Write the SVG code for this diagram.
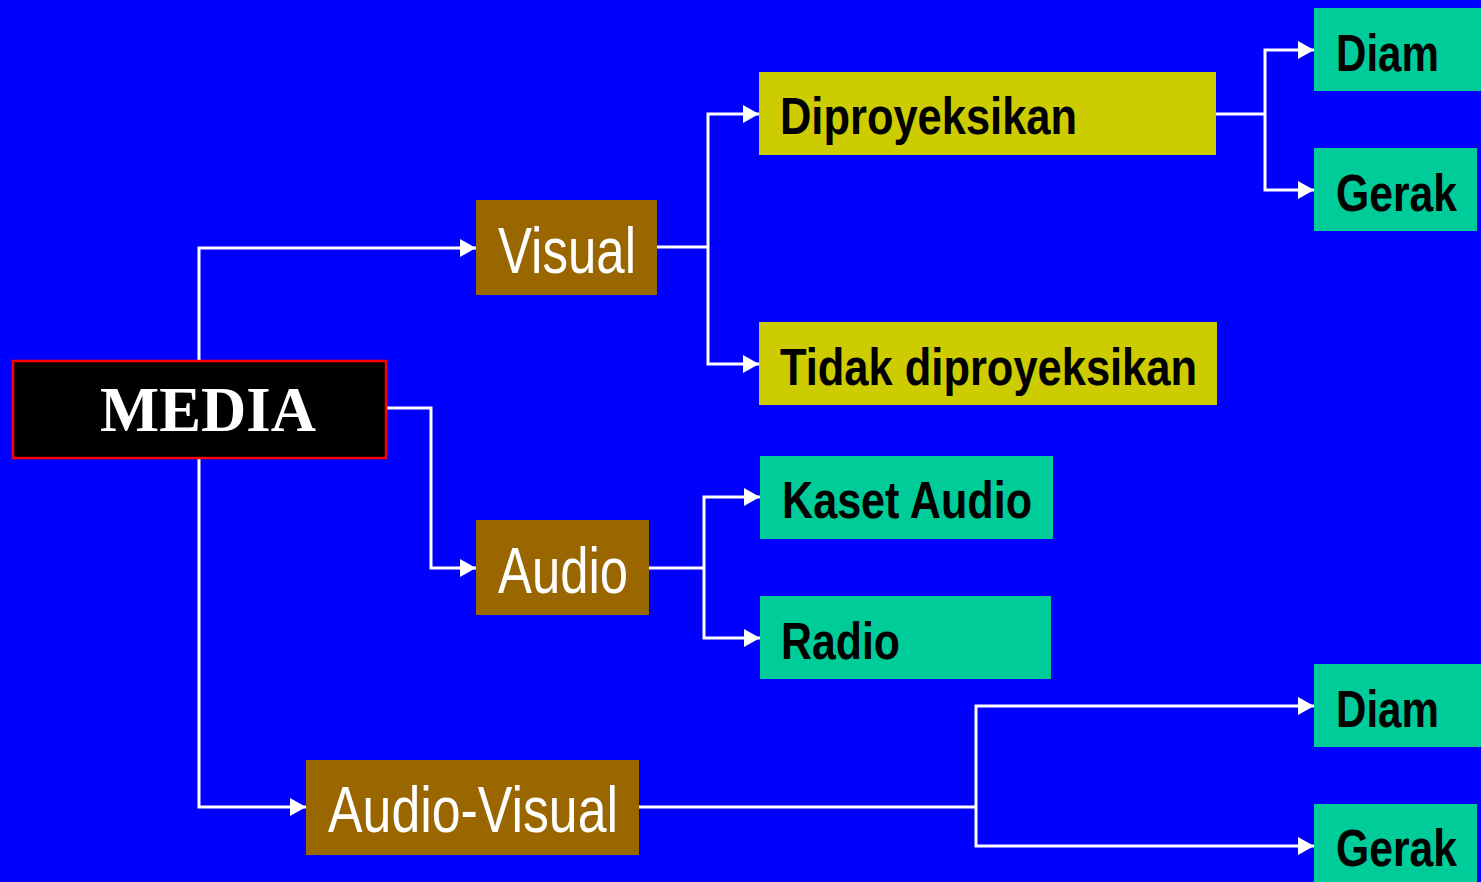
<svg xmlns="http://www.w3.org/2000/svg" width="1481" height="882" viewBox="0 0 1481 882">
<style>
.c{fill:none;stroke:#fff;stroke-width:3}
.b{fill:#996600}
.y{fill:#CCCC00}
.g{fill:#00CC99}
.tw{font-family:"Liberation Sans",Arial,sans-serif;fill:#fff;font-size:64px}
.tb{font-family:"Liberation Sans",Arial,sans-serif;fill:#000;font-weight:bold;font-size:52px}
</style>
<defs>
<marker id="ar" markerUnits="userSpaceOnUse" markerWidth="16" markerHeight="18" refX="16" refY="9" orient="auto">
<path d="M0,0 L16,9 L0,18 Z" fill="#fff"/>
</marker>
</defs>
<rect width="1481" height="882" fill="#0000FF"/>
<g id="connectors">
<polyline class="c" points="199,360 199,248 476,248" marker-end="url(#ar)"/>
<polyline class="c" points="386,408 431,408 431,568 476,568" marker-end="url(#ar)"/>
<polyline class="c" points="199,458 199,807 306,807" marker-end="url(#ar)"/>
<polyline class="c" points="657,247 708,247"/>
<polyline class="c" points="708,247 708,114 759,114" marker-end="url(#ar)"/>
<polyline class="c" points="708,247 708,364 759,364" marker-end="url(#ar)"/>
<polyline class="c" points="1216,114 1265,114"/>
<polyline class="c" points="1265,114 1265,50 1314,50" marker-end="url(#ar)"/>
<polyline class="c" points="1265,114 1265,190 1314,190" marker-end="url(#ar)"/>
<polyline class="c" points="649,568 704,568"/>
<polyline class="c" points="704,568 704,497 760,497" marker-end="url(#ar)"/>
<polyline class="c" points="704,568 704,638 760,638" marker-end="url(#ar)"/>
<polyline class="c" points="639,807 976,807"/>
<polyline class="c" points="976,807 976,706 1314,706" marker-end="url(#ar)"/>
<polyline class="c" points="976,807 976,846 1314,846" marker-end="url(#ar)"/>
</g>
<g id="media">
<rect x="13" y="361" width="373" height="97" fill="#000" stroke="#FF0000" stroke-width="2.5"/>
<text x="100" y="431" font-family="'Liberation Serif','Times New Roman',serif" font-weight="bold" font-size="64" fill="#fff" textLength="216" lengthAdjust="spacingAndGlyphs">MEDIA</text>
</g>
<g id="visual">
<rect class="b" x="476" y="200" width="181" height="95"/>
<text class="tw" x="498" y="273" textLength="138" lengthAdjust="spacingAndGlyphs">Visual</text>
</g>
<g id="diproyeksikan">
<rect class="y" x="759" y="72" width="457" height="83"/>
<text class="tb" x="780" y="134" textLength="297" lengthAdjust="spacingAndGlyphs">Diproyeksikan</text>
</g>
<g id="tidak">
<rect class="y" x="759" y="322" width="458" height="83"/>
<text class="tb" x="780" y="385" textLength="417" lengthAdjust="spacingAndGlyphs">Tidak diproyeksikan</text>
</g>
<g id="diam1">
<rect class="g" x="1314" y="8" width="167" height="83"/>
<text class="tb" x="1336" y="71" textLength="103" lengthAdjust="spacingAndGlyphs">Diam</text>
</g>
<g id="gerak1">
<rect class="g" x="1314" y="148" width="163" height="83"/>
<text class="tb" x="1336" y="211" textLength="121" lengthAdjust="spacingAndGlyphs">Gerak</text>
</g>
<g id="audio">
<rect class="b" x="476" y="520" width="173" height="95"/>
<text class="tw" x="498" y="593" textLength="130" lengthAdjust="spacingAndGlyphs">Audio</text>
</g>
<g id="kaset">
<rect class="g" x="760" y="456" width="293" height="83"/>
<text class="tb" x="782" y="518" textLength="250" lengthAdjust="spacingAndGlyphs">Kaset Audio</text>
</g>
<g id="radio">
<rect class="g" x="760" y="596" width="291" height="83"/>
<text class="tb" x="781" y="659" textLength="119" lengthAdjust="spacingAndGlyphs">Radio</text>
</g>
<g id="audiovisual">
<rect class="b" x="306" y="760" width="333" height="95"/>
<text class="tw" x="328" y="832" textLength="290" lengthAdjust="spacingAndGlyphs">Audio-Visual</text>
</g>
<g id="diam2">
<rect class="g" x="1314" y="664" width="167" height="83"/>
<text class="tb" x="1336" y="727" textLength="103" lengthAdjust="spacingAndGlyphs">Diam</text>
</g>
<g id="gerak2">
<rect class="g" x="1314" y="804" width="163" height="78"/>
<text class="tb" x="1336" y="866" textLength="121" lengthAdjust="spacingAndGlyphs">Gerak</text>
</g>
</svg>
